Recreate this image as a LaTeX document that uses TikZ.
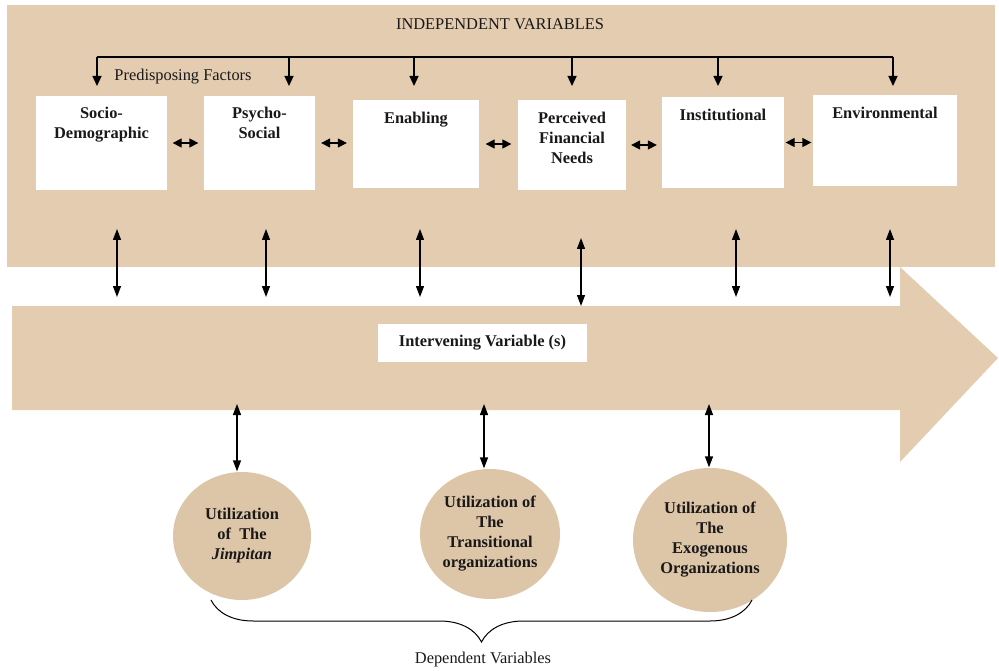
\documentclass[tikz,border=0pt]{standalone}
\usepackage{fontspec}
\setmainfont{Liberation Serif}
\usepackage{tikz}
\usetikzlibrary{positioning}
\usetikzlibrary{arrows.meta}
\usetikzlibrary{shapes.geometric}
\usetikzlibrary{decorations.pathreplacing}
\usetikzlibrary{math}
\usetikzlibrary{calc}

\definecolor{tan}{RGB}{227,204,176}
\definecolor{tandark}{RGB}{221,197,168}
\definecolor{ink}{RGB}{25,25,25}

\begin{document}
\begin{tikzpicture}[
  x=1pt, y=-1pt,
  line width=1.3pt,
  every node/.style={font=\fontsize{16.4}{20}\selectfont, text=ink},
  varbox/.style={fill=white, inner sep=0pt},
  boxlabel/.style={font=\fontsize{16.4}{20}\selectfont\bfseries, align=center, inner sep=0pt},
  dep/.style={ellipse, fill=tandark, inner sep=0pt, align=center,
    font=\fontsize{16.4}{20}\selectfont\bfseries},
  twoway/.style={{Triangle[length=11pt,width=8pt]}-{Triangle[length=11pt,width=8pt]}},
  short/.style={{Triangle[length=9pt,width=9pt]}-{Triangle[length=9pt,width=9pt]}},
  feed/.style={-{Triangle[length=10pt,width=9pt]}},
  ]

  \tikzmath{
    \panelbot = 267; % lower edge of the independent panel
    \bodytop  = 306; % upper edge of the arrow body
    \bodybot  = 410; % lower edge of the arrow body
    \neck     = 900; % where the arrow head starts
    \fork     = 57;  % height of the distributing line
  }

  \useasboundingbox (0,0) rectangle (999,671);

  % Panel and big arrow
  \fill[tan] (7,5) rectangle (995,\panelbot);
  \fill[tan] (12,\bodytop) -- (\neck,\bodytop) -- (\neck,\panelbot) -- (998,358)
    -- (\neck,462) -- (\neck,\bodybot) -- (12,\bodybot) -- cycle;

  % Titles
  \node (title) at (500,24) {INDEPENDENT VARIABLES};
  \node (pred) at (183,77) {Predisposing Factors};

  % Independent variables
  \node[varbox, minimum width=131, minimum height=94] (sd)   at (101.5,143) {};
  \node[varbox, minimum width=111, minimum height=94] (ps)   at (259.5,143) {};
  \node[varbox, minimum width=126, minimum height=88] (en)   at (416,144)   {};
  \node[varbox, minimum width=108, minimum height=90] (pf)   at (572,145)   {};
  \node[varbox, minimum width=122, minimum height=91] (inst) at (723,142.5) {};
  \node[varbox, minimum width=144, minimum height=91] (ev)   at (885,140.5) {};

  \node[boxlabel, below=11pt of sd.north]   {Socio-\\Demographic};
  \node[boxlabel, below=11pt of ps.north]   {Psycho-\\Social};
  \node[boxlabel, below=12pt of en.north]   {Enabling};
  \node[boxlabel, below=12pt of pf.north]   {Perceived\\Financial\\Needs};
  \node[boxlabel, below=12pt of inst.north] {Institutional};
  \node[boxlabel, below=12pt of ev.north]   {Environmental};

  % Links between neighbouring boxes
  \foreach \a/\b/\s in {sd/ps/5, ps/en/5.5, en/pf/6, pf/inst/4.5, inst/ev/1}
    \draw[short, shorten <=\s pt, shorten >=\s pt] (\a.east) -- (\a.east -| \b.west);

  % Distributing line
  \coordinate (F0) at (97,\fork);
  \coordinate (F1) at (893,\fork);
  \draw (F0) -- (F1);
  \foreach \x [count=\i] in {97,289,414,572,718,893} {
    \coordinate (T\i) at (\x,\fork);
    \draw[feed] (T\i) -- ($(T\i)+(0,29)$);
  }

  % Intervening variable
  \node[varbox, minimum width=209, minimum height=38, font=\fontsize{16.4}{20}\selectfont\bfseries]
    (iv) at (482.5,343) {Intervening Variable (s)};

  % Links panel <-> arrow body
  \foreach \x/\ya/\yb [count=\i] in {117/229/297, 266/229/297, 420/229/297,
                                      581/238/306, 736/229/297, 890/229/297} {
    \coordinate (U\i) at (\x,\ya);
    \coordinate (L\i) at (\x,\yb);
    \draw[twoway] (U\i) -- (L\i);
  }

  % Dependent variables
  \node[dep, minimum width=138, minimum height=128] (jim) at (242,536)
    {Utilization\\of~ The\\\textit{Jimpitan}};
  \node[dep, minimum width=140, minimum height=130] (tra) at (490,534)
    {Utilization of\\The\\Transitional\\organizations};
  \node[dep, minimum width=154, minimum height=144] (exo) at (710,540)
    {Utilization of\\The\\Exogenous\\Organizations};

  \coordinate (D1) at (237,404);
  \coordinate (D2) at (484,404);
  \coordinate (D3) at (709,404);
  \draw[twoway] (D1) -- (D1 |- jim.north);
  \draw[twoway] (D2) -- (D2 |- tra.north);
  \draw[twoway] (D3) -- (D3 |- exo.north);

  % Brace under the dependent variables
  \coordinate (B0) at (211,600);
  \coordinate (B1) at (752,600);
  \draw[line width=1pt, decorate, decoration={brace, mirror, amplitude=42pt}] (B0) -- (B1);
  \node (depv) at (483,660) {Dependent Variables};

\end{tikzpicture}
\end{document}
